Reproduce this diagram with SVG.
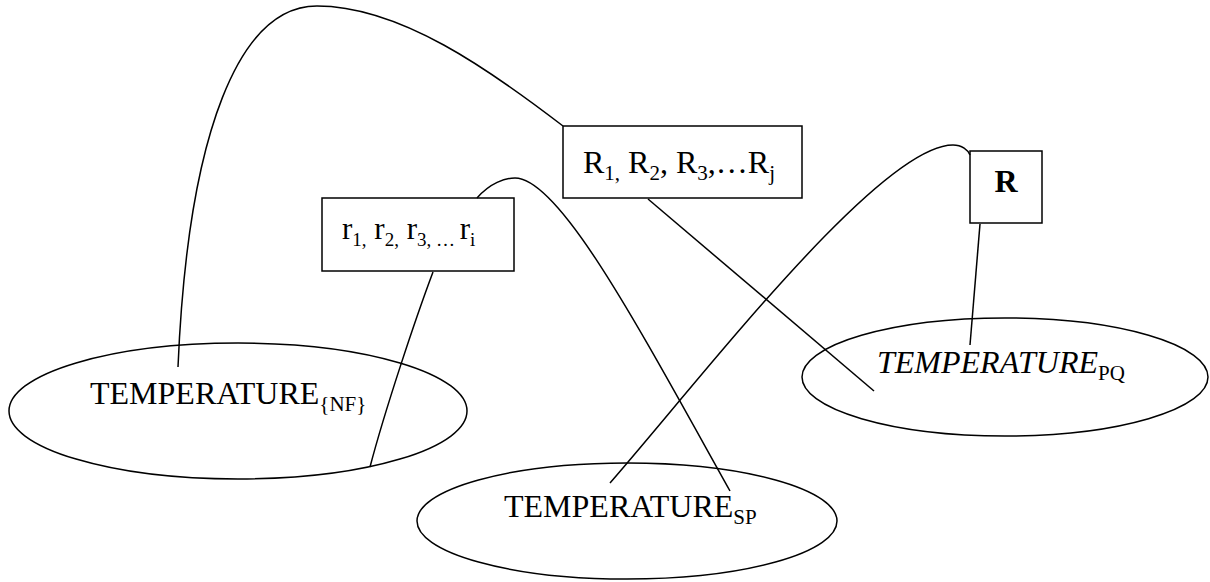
<svg xmlns="http://www.w3.org/2000/svg" width="1210" height="582" viewBox="0 0 1210 582">
<style>
.s{fill:#fff;stroke:#000;stroke-width:1.5}
.c{fill:none;stroke:#000;stroke-width:1.5}
.t{font-family:"Liberation Serif","Times New Roman",serif;font-size:32px;fill:#000}
.sub{font-size:21px}
.rt{font-size:31px}
.rs{font-size:19px}
</style>
<rect width="1210" height="582" fill="#fff"/>
<g id="nodes">
<g id="nf"><ellipse class="s" cx="238" cy="411" rx="229" ry="68"/><text class="t" x="90" y="404">TEMPERATURE<tspan class="sub" dy="7">{NF}</tspan></text></g>
<g id="sp"><ellipse class="s" cx="627" cy="521" rx="210" ry="58"/><text class="t" x="504" y="517">TEMPERATURE<tspan class="sub" dy="7">SP</tspan></text></g>
<g id="pq"><ellipse class="s" cx="1005" cy="377" rx="203" ry="59"/><text class="t" x="877" y="373"><tspan font-style="italic">TEMPERATURE</tspan><tspan class="sub" dy="7">PQ</tspan></text></g>
<g id="Rlist"><rect class="s" x="563" y="126" width="239" height="72"/><text class="t" x="583" y="173">R<tspan class="sub" dy="7">1,</tspan><tspan dy="-7"> R</tspan><tspan class="sub" dy="7">2</tspan><tspan dy="-7">, R</tspan><tspan class="sub" dy="7">3</tspan><tspan dy="-7">,…R</tspan><tspan class="sub" dy="7">j</tspan></text></g>
<g id="rlist"><rect class="s" x="322" y="198" width="192" height="73"/><text class="t rt" x="342" y="239">r<tspan class="rs" dy="7">1,</tspan><tspan dy="-7"> r</tspan><tspan class="rs" dy="7">2,</tspan><tspan dy="-7"> r</tspan><tspan class="rs" dy="7">3, … </tspan><tspan dy="-7">r</tspan><tspan class="rs" dy="7">i</tspan></text></g>
<g id="R"><rect class="s" x="970" y="151" width="72" height="72"/><text class="t" x="1006" y="192" text-anchor="middle" font-weight="bold">R</text></g>
</g>
<g id="connectors">
<path class="c" d="M178,367 C188,130 240,6 317,6 C400,6 490,70 563,126"/>
<path class="c" d="M648,199 L874,391"/>
<path class="c" d="M477,198 C490,183 505,178 515,178 C560,178 640,330 730,491"/>
<path class="c" d="M610,483 C700,380 880,145 953,145 C962,145 968,150 970,155"/>
<path class="c" d="M980,224 L970,345"/>
<path class="c" d="M433,272 C415,320 385,410 370,467"/>
</g>
</svg>
